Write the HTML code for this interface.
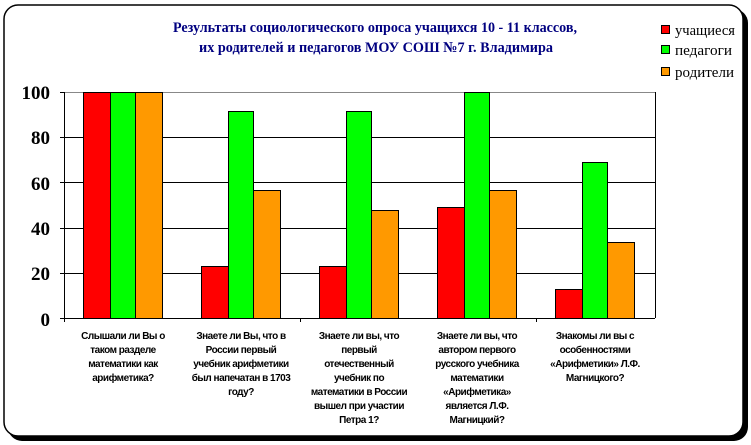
<!DOCTYPE html>
<html><head><meta charset="utf-8"><style>
html,body{margin:0;padding:0;background:#fff;width:751px;height:445px;overflow:hidden}
</style></head><body>
<svg width="751" height="445" viewBox="0 0 751 445" xmlns="http://www.w3.org/2000/svg">
<rect x="8" y="9" width="740" height="432" rx="14" fill="#000"/>
<rect x="4" y="5" width="739" height="431" rx="14" fill="#fff" stroke="#000" stroke-width="1.5"/>
<g style="font-family:'Liberation Serif',serif" font-weight="bold" font-size="15" fill="#000080" text-anchor="middle">
<text x="375" y="32" textLength="404" lengthAdjust="spacingAndGlyphs">Результаты социологического опроса учащихся 10 - 11 классов,</text>
<text x="376" y="52" textLength="354" lengthAdjust="spacingAndGlyphs">их родителей и педагогов МОУ СОШ №7 г. Владимира</text>
</g>
<g stroke="#000" stroke-width="1">
<rect x="661.5" y="25.5" width="8" height="8" fill="#f00"/>
<rect x="661.5" y="45.5" width="8" height="8" fill="#0f0"/>
<rect x="661.5" y="67.5" width="8" height="8" fill="#f90"/>
</g>
<g style="font-family:'Liberation Serif',serif" font-size="15" fill="#000">
<text x="675" y="35" textLength="60" lengthAdjust="spacingAndGlyphs">учащиеся</text>
<text x="675" y="55" textLength="57" lengthAdjust="spacingAndGlyphs">педагоги</text>
<text x="675" y="77" textLength="59" lengthAdjust="spacingAndGlyphs">родители</text>
</g>
<line x1="64" y1="92.5" x2="655" y2="92.5" stroke="#888"/>
<g stroke="#000">
<line x1="64" y1="137.5" x2="655" y2="137.5"/>
<line x1="64" y1="182.5" x2="655" y2="182.5"/>
<line x1="64" y1="228.5" x2="655" y2="228.5"/>
<line x1="64" y1="273.5" x2="655" y2="273.5"/>
<line x1="655.5" y1="92" x2="655.5" y2="318"/>
<line x1="64.5" y1="92" x2="64.5" y2="322"/>
<line x1="60" y1="318.5" x2="655" y2="318.5"/>
<line x1="60" y1="92.5" x2="64" y2="92.5"/>
<line x1="60" y1="137.5" x2="64" y2="137.5"/>
<line x1="60" y1="182.5" x2="64" y2="182.5"/>
<line x1="60" y1="228.5" x2="64" y2="228.5"/>
<line x1="60" y1="273.5" x2="64" y2="273.5"/>
<line x1="300.5" y1="318" x2="300.5" y2="322"/>
<line x1="536.5" y1="318" x2="536.5" y2="322"/>
</g>
<g style="font-family:'Liberation Serif',serif" font-weight="bold" font-size="19" text-anchor="end" fill="#000">
<text x="50" y="99">100</text><text x="50" y="144">80</text><text x="50" y="190">60</text>
<text x="50" y="235">40</text><text x="50" y="280">20</text><text x="50" y="326">0</text>
</g>
<g stroke="#000" stroke-width="1">
<rect x="83.5" y="92.5" width="27" height="226" fill="#f00"/>
<rect x="110.5" y="92.5" width="25" height="226" fill="#0f0"/>
<rect x="135.5" y="92.5" width="27" height="226" fill="#f90"/>

<rect x="201.5" y="266.5" width="27" height="52" fill="#f00"/>
<rect x="228.5" y="111.5" width="25" height="207" fill="#0f0"/>
<rect x="253.5" y="190.5" width="27" height="128" fill="#f90"/>

<rect x="319.5" y="266.5" width="27" height="52" fill="#f00"/>
<rect x="346.5" y="111.5" width="25" height="207" fill="#0f0"/>
<rect x="371.5" y="210.5" width="27" height="108" fill="#f90"/>

<rect x="437.5" y="207.5" width="27" height="111" fill="#f00"/>
<rect x="464.5" y="92.5" width="25" height="226" fill="#0f0"/>
<rect x="489.5" y="190.5" width="27" height="128" fill="#f90"/>

<rect x="555.5" y="289.5" width="27" height="29" fill="#f00"/>
<rect x="582.5" y="162.5" width="25" height="156" fill="#0f0"/>
<rect x="607.5" y="242.5" width="27" height="76" fill="#f90"/>
</g>
<g style="font-family:'Liberation Sans',sans-serif" font-size="10" font-weight="bold" text-anchor="middle" fill="#000" letter-spacing="-0.5">
<text x="123" y="339">Слышали ли Вы о</text><text x="123" y="353">таком разделе</text><text x="123" y="367">математики как</text><text x="123" y="381">арифметика?</text>
<text x="241" y="339">Знаете ли Вы, что в</text><text x="241" y="353">России первый</text><text x="241" y="367">учебник арифметики</text><text x="241" y="381">был напечатан в 1703</text><text x="241" y="395">году?</text>
<text x="359" y="339">Знаете ли вы, что</text><text x="359" y="353">первый</text><text x="359" y="367">отечественный</text><text x="359" y="381">учебник по</text><text x="359" y="395">математики в России</text><text x="359" y="409">вышел при участии</text><text x="359" y="423">Петра 1?</text>
<text x="477" y="339">Знаете ли вы, что</text><text x="477" y="353">автором первого</text><text x="477" y="367">русского учебника</text><text x="477" y="381">математики</text><text x="477" y="395">«Арифметика»</text><text x="477" y="409">является Л.Ф.</text><text x="477" y="423">Магницкий?</text>
<text x="595" y="339">Знакомы ли вы с</text><text x="595" y="353">особенностями</text><text x="595" y="367">«Арифметики» Л.Ф.</text><text x="595" y="381">Магницкого?</text>
</g>
</svg>
</body></html>
